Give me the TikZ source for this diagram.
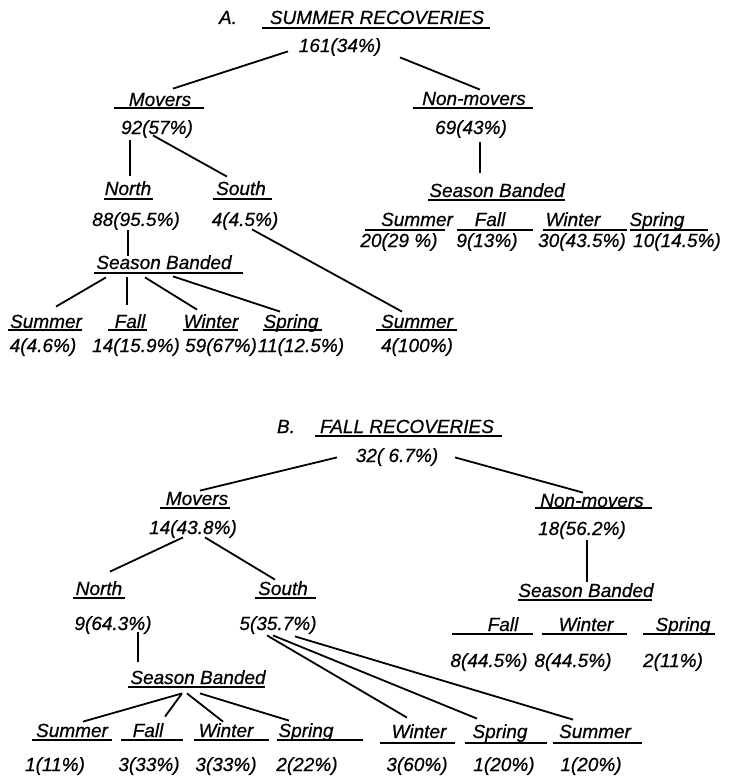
\documentclass[tikz,border=0pt]{standalone}
\usepackage{fontspec}
\setmainfont{Liberation Sans}[ItalicFeatures={FakeBold=0.6}]
\usetikzlibrary{calc}

\tikzset{
  lab/.style={font=\itshape\fontsize{9.5}{12}\selectfont, inner sep=0pt, text height=7pt, text depth=0pt},
  link/.style={line width=0.9pt},
  uline/.style={line width=0.8pt}
}

\begin{document}
\begin{tikzpicture}[x=0.5pt, y=-0.5pt]
  \useasboundingbox (0,0) rectangle (729,776);

  % A. summer recoveries
  \node[lab] (hA) at (228,17) {A.};
  \node[lab] (ttlA) at (377,17) {SUMMER RECOVERIES};
  \draw[uline] (262,28) -- (490,28);
  \node[lab] (tA) at (340,45) {161(34\%)};

  \node[lab] (mA) at (160,99) {Movers};
  \draw[uline] (114,108) -- (204,108);
  \node[lab] (mvA) at (157,127) {92(57\%)};
  \node[lab] (nmA) at (474,98) {Non-movers};
  \draw[uline] (413,108) -- (533,108);
  \node[lab] (nmvA) at (471,127) {69(43\%)};

  \node[lab] (nA) at (128,188) {North};
  \draw[uline] (104,199) -- (153,199);
  \node[lab] (nvA) at (136,219) {88(95.5\%)};
  \node[lab] (sA) at (241,188) {South};
  \draw[uline] (213,199) -- (272,199);
  \node[lab] (svA) at (245,219) {4(4.5\%)};

  \node[lab] (sbA) at (164,262) {Season Banded};
  \draw[uline] (94,273) -- (243,273);
  \node[lab] (nsbA) at (497,190) {Season Banded};
  \draw[uline] (428,200) -- (565,200);

  \foreach \nm/\x/\txt/\ua/\ub/\vx/\val in {aS/46/Summer/8/82/43/4(4.6\%),
      aF/130/Fall/108/147/136/14(15.9\%), aW/211/Winter/183/238/221/59(67\%),
      aP/291/Spring/263/322/301/11(12.5\%), aX/417/Summer/376/457/417/4(100\%)}{
    \node[lab] (\nm) at (\x,321) {\txt};
    \draw[uline] (\ua,330) -- (\ub,330);
    \node[lab] (v\nm) at (\vx,345) {\val};
  }
  \foreach \nm/\x/\txt/\ua/\ub/\vx/\val in {kS/417/Summer/365/445/399/20(29 \%),
      kF/490/Fall/457/533/487/9(13\%), kW/573/Winter/543/627/582/30(43.5\%),
      kP/657/Spring/630/708/677/10(14.5\%)}{
    \node[lab] (\nm) at (\x,219) {\txt};
    \draw[uline] (\ua,230) -- (\ub,230);
    \node[lab] (v\nm) at (\vx,240) {\val};
  }

  \draw[link] ($(tA.south)+(-52,-1)$) -- ($(mA.north)+(13,-3)$);
  \draw[link] ($(tA.south)+(60,5)$) -- ($(nmA.north)+(6,-1)$);
  \draw[link] ($(mvA.south)+(-27,6)$) -- ($(nA.north)+(2,-5)$);
  \draw[link] ($(mvA.south)+(-4,1)$) -- ($(sA.north)+(-14,-4)$);
  \draw[link] ($(nmvA.south)+(9,8)$) -- ($(nsbA.north)+(-17,-10)$);
  \draw[link] ($(nvA.south)+(-8,4)$) -- ($(sbA.north)+(-36,1)$);
  \draw[link] ($(svA.south)+(7,3)$) -- ($(aX.north)+(-15,-2)$);
  \draw[link] ($(sbA.south)+(-58,8)$) -- ($(aS.north)+(10,-7)$);
  \draw[link] ($(sbA.south)+(-37,8)$) -- ($(aF.north)+(-3,-9)$);
  \draw[link] ($(sbA.south)+(-19,8)$) -- ($(aW.north)+(-14,-4)$);
  \draw[link] ($(sbA.south)+(9,7)$) -- ($(aP.north)+(-11,-2)$);

  % B. fall recoveries
  \node[lab] (hB) at (286,426) {B.};
  \node[lab] (ttlB) at (407,426) {FALL RECOVERIES};
  \draw[uline] (315,436) -- (502,436);
  \node[lab] (tB) at (397,455) {32( 6.7\%)};

  \node[lab] (mB) at (197,498) {Movers};
  \draw[uline] (160,508) -- (230,508);
  \node[lab] (mvB) at (193,527) {14(43.8\%)};
  \node[lab] (nmB) at (592,500) {Non-movers};
  \draw[uline] (535,508) -- (652,508);
  \node[lab] (nmvB) at (582,528) {18(56.2\%)};

  \node[lab] (nB) at (99,588) {North};
  \draw[uline] (73,598) -- (125,598);
  \node[lab] (nvB) at (113,623) {9(64.3\%)};
  \node[lab] (sB) at (283,588) {South};
  \draw[uline] (255,598) -- (316,598);
  \node[lab] (svB) at (278,623) {5(35.7\%)};

  \node[lab] (sbB) at (198,677) {Season Banded};
  \draw[uline] (128,687) -- (265,687);
  \node[lab] (nsbB) at (586,590) {Season Banded};
  \draw[uline] (518,600) -- (652,600);

  \foreach \nm/\x/\txt/\ua/\ub/\vx/\val in {bS/72/Summer/32/112/55/1(11\%),
      bF/148/Fall/121/183/149/3(33\%), bW/226/Winter/194/269/226/3(33\%),
      bP/306/Spring/277/363/307/2(22\%)}{
    \node[lab] (\nm) at (\x,730) {\txt};
    \draw[uline] (\ua,740) -- (\ub,740);
    \node[lab] (v\nm) at (\vx,764) {\val};
  }
  \foreach \nm/\x/\txt/\ua/\ub/\vx/\val in {cW/419/Winter/380/455/417/3(60\%),
      cP/500/Spring/465/547/504/1(20\%), cS/595/Summer/553/642/591/1(20\%)}{
    \node[lab] (\nm) at (\x,731) {\txt};
    \draw[uline] (\ua,743) -- (\ub,743);
    \node[lab] (v\nm) at (\vx,764) {\val};
  }
  \foreach \nm/\x/\txt/\ua/\ub/\vx/\val in {dF/503/Fall/452/533/489/8(44.5\%),
      dW/586/Winter/542/627/573/8(44.5\%), dP/683/Spring/643/715/673/2(11\%)}{
    \node[lab] (\nm) at (\x,624) {\txt};
    \draw[uline] (\ua,634) -- (\ub,634);
    \node[lab] (v\nm) at (\vx,660) {\val};
  }

  \draw[link] ($(tB.south)+(-60,-5)$) -- ($(mB.north)+(3,0)$);
  \draw[link] ($(tB.south)+(58,-5)$) -- ($(nmB.north)+(-9,0)$);
  \draw[link] ($(mvB.south)+(-10,3)$) -- ($(nB.north)+(11,-9)$);
  \draw[link] ($(mvB.south)+(12,3)$) -- ($(sB.north)+(-8,-1)$);
  \draw[link] ($(nmvB.south)+(5,5)$) -- ($(nsbB.north)+(1,-1)$);
  \draw[link] ($(nvB.south)+(25,2)$) -- ($(sbB.north)+(-60,-8)$);
  \draw[link] ($(sbB.south)+(-16,9)$) -- ($(bS.north)+(11,-1)$);
  \draw[link] ($(sbB.south)+(-16,9)$) -- ($(bF.north)+(17,-6)$);
  \draw[link] ($(sbB.south)+(-11,9)$) -- ($(bW.north)+(-3,-1)$);
  \draw[link] ($(sbB.south)+(2,9)$) -- ($(bP.north)+(-17,-2)$);
  \draw[link] ($(svB.south)+(-11,5)$) -- ($(cW.north)+(-12,-6)$);
  \draw[link] ($(svB.south)+(-5,5)$) -- ($(cP.north)+(-23,-5)$);
  \draw[link] ($(svB.south)+(17,6)$) -- ($(cS.north)+(-22,-4)$);
\end{tikzpicture}
\end{document}
